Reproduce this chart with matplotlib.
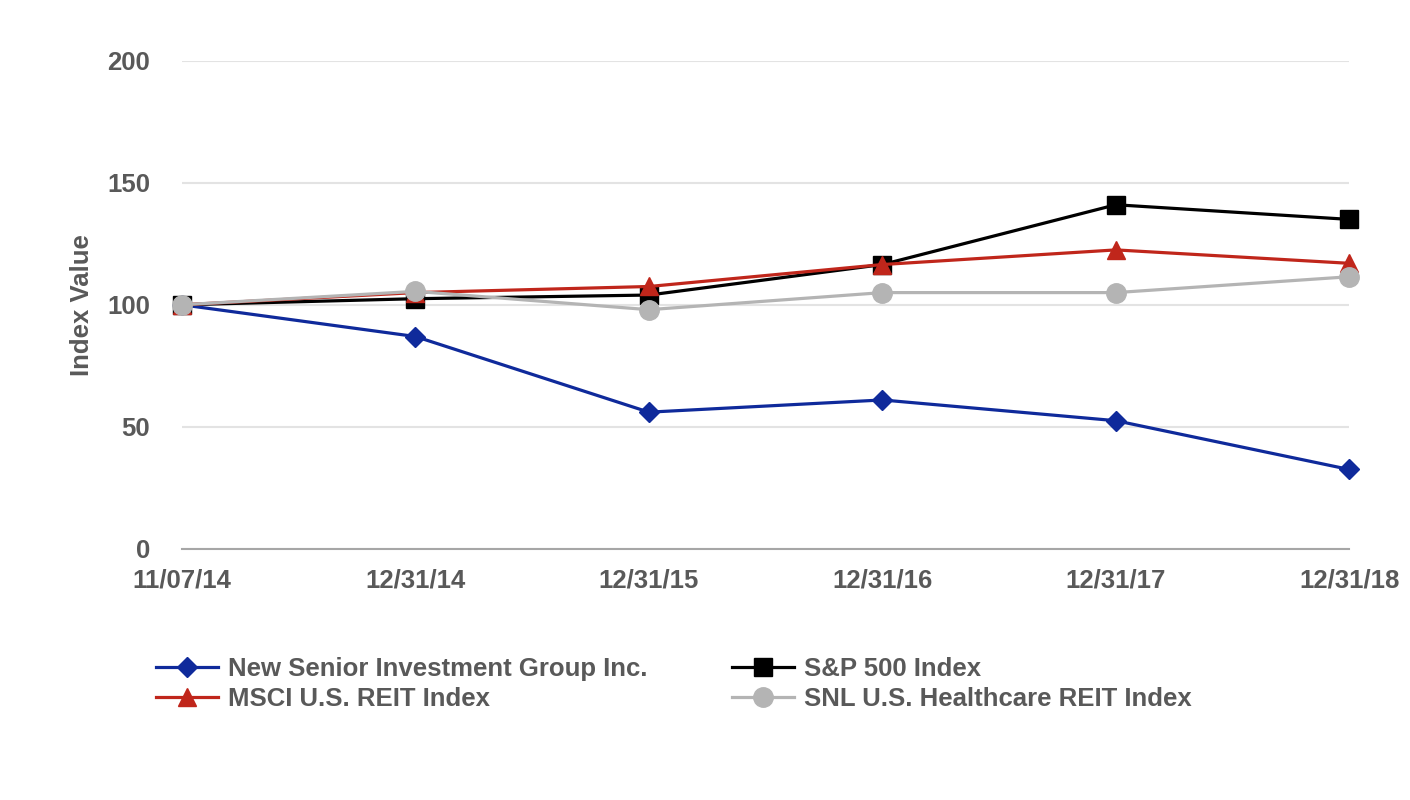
import matplotlib
matplotlib.use("Agg")
from matplotlib import pyplot as plt

plt.rcParams['font.family'] = ['Liberation Sans', 'DejaVu Sans']
plt.rcParams['font.weight'] = 'bold'

# Data
dates = ["11/07/14", "12/31/14", "12/31/15", "12/31/16", "12/31/17", "12/31/18"]
new_senior = [100, 87, 56, 61, 52.5, 32.5]
sp500 = [100, 102.5, 104, 116.5, 141, 135]
msci_reit = [100, 105, 107.5, 116.5, 122.5, 117]
snl_health = [100, 105.5, 98, 105, 105, 111.5]

text_col = '#595959'
fs = 18.5
x = list(range(len(dates)))

fig = plt.figure(figsize=(14.1, 8), dpi=100)
ax = fig.add_axes([0.129, 0.314, 0.828, 0.610])

ax.plot(x, new_senior, color='#0F2A9B', lw=2.3, marker='D', ms=10.5,
        label='New Senior Investment Group Inc.', clip_on=False, zorder=3)
ax.plot(x, sp500, color='black', lw=2.3, marker='s', ms=13,
        label='S&P 500 Index', clip_on=False, zorder=4)
ax.plot(x, msci_reit, color='#C0261B', lw=2.3, marker='^', ms=13,
        label='MSCI U.S. REIT Index', clip_on=False, zorder=5)
ax.plot(x, snl_health, color='#B4B4B4', lw=2.3, marker='o', ms=14,
        label='SNL U.S. Healthcare REIT Index', clip_on=False, zorder=6)

ax.set_xlim(0, len(dates) - 1)
ax.set_ylim(0, 200)
ax.set_yticks([0, 50, 100, 150, 200])
ax.set_xticks(x)
ax.set_xticklabels(dates)
ax.grid(axis='y', color='#E3E3E3', lw=1.5)
ax.set_axisbelow(True)
for s in ['top', 'right', 'left']:
    ax.spines[s].set_visible(False)
ax.spines['bottom'].set_color('#A6A6A6')
ax.spines['bottom'].set_linewidth(1.5)
ax.tick_params(axis='both', length=0, labelsize=fs, colors=text_col)
ax.tick_params(axis='y', pad=23)
ax.tick_params(axis='x', pad=14)
ax.set_ylabel('Index Value', fontsize=fs, color=text_col, fontweight='bold',
              labelpad=9)

# legend order: column 1 = New Senior, MSCI; column 2 = S&P, SNL
handles, labels = ax.get_legend_handles_labels()
order = [0, 2, 1, 3]
leg = fig.legend([handles[i] for i in order], [labels[i] for i in order],
                 loc='upper left', bbox_to_anchor=(0.1035, 0.191), ncol=2,
                 frameon=False, fontsize=fs, handlelength=2.4,
                 handletextpad=0.4, columnspacing=3.3, labelspacing=0.2,
                 borderaxespad=0)
for t in leg.get_texts():
    t.set_color(text_col)

fig.savefig('out.png', dpi=100)
